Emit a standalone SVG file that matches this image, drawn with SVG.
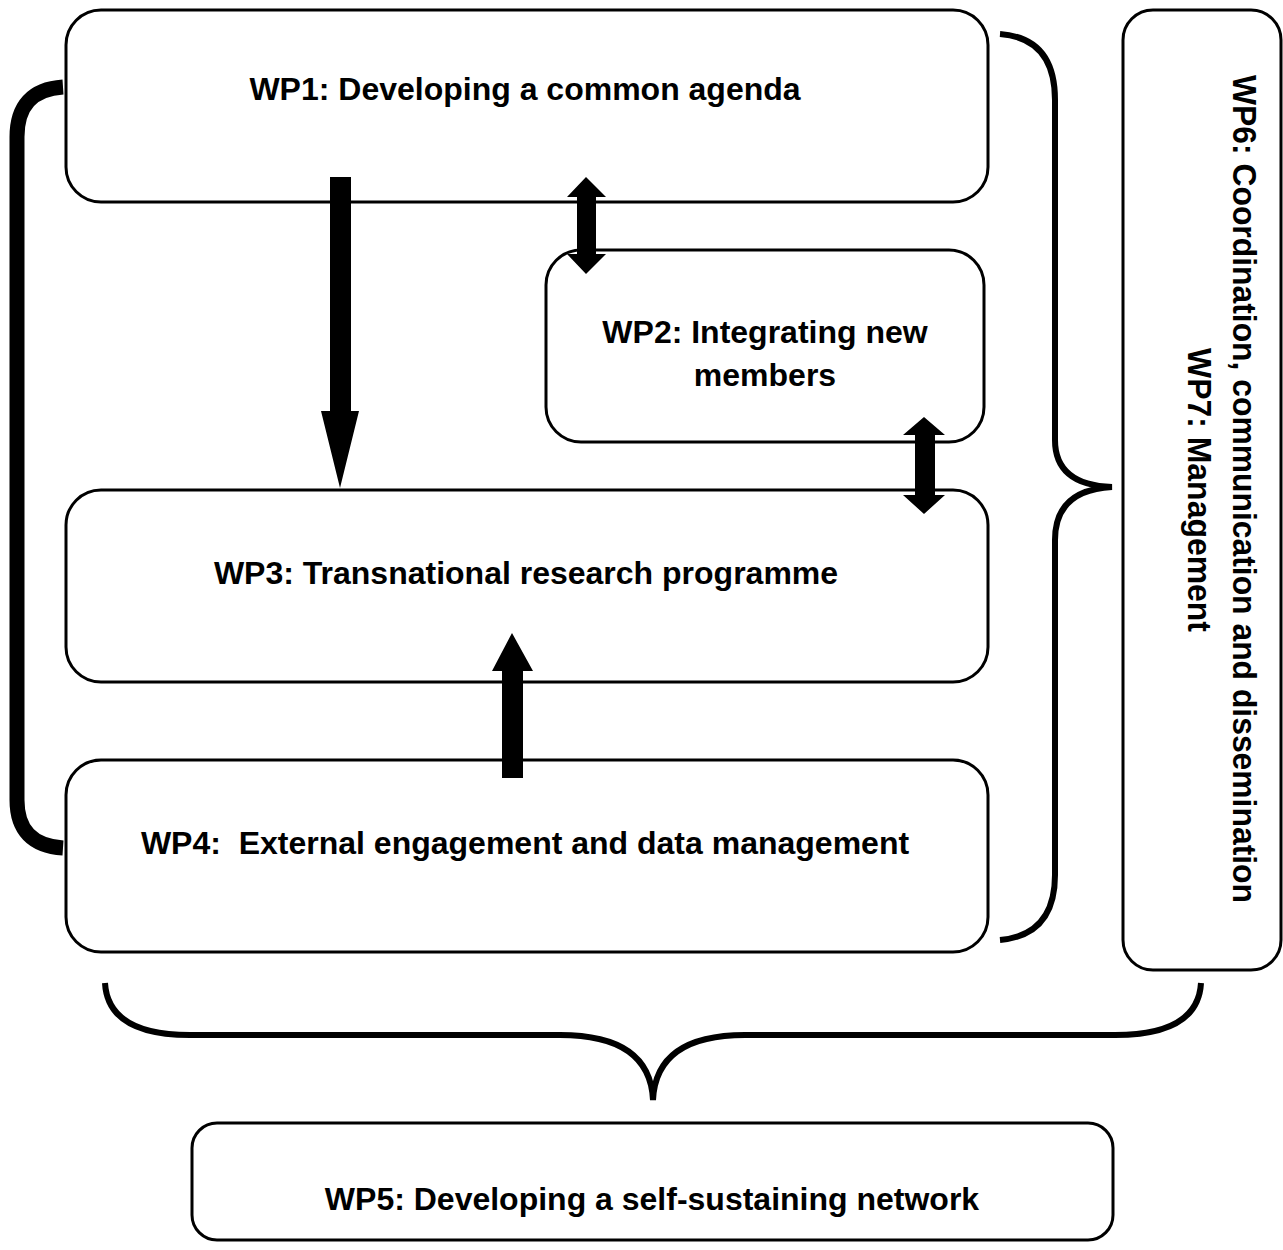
<svg xmlns="http://www.w3.org/2000/svg" width="1283" height="1250" viewBox="0 0 1283 1250">
<style>
.box{fill:#fff;stroke:#000;stroke-width:3}
.t{font-family:"Liberation Sans",Arial,sans-serif;font-weight:bold;font-size:32px;fill:#000;text-anchor:middle}
.v{font-size:34px}
.br{fill:none;stroke:#000;stroke-width:6;stroke-linecap:butt}
.ar{fill:#000;stroke:none}
</style>
<rect width="1283" height="1250" fill="#fff"/>
<g id="wp1"><rect class="box" x="66" y="10" width="922" height="192" rx="35"/><text class="t" x="525" y="100">WP1: Developing a common agenda</text></g>
<g id="wp2"><rect class="box" x="546" y="250" width="438" height="192" rx="35"/><text class="t" x="765" y="343">WP2: Integrating new</text><text class="t" x="765" y="386">members</text></g>
<g id="wp3"><rect class="box" x="66" y="490" width="922" height="192" rx="35"/><text class="t" x="526" y="584">WP3: Transnational research programme</text></g>
<g id="wp4"><rect class="box" x="66" y="760" width="922" height="192" rx="35"/><text class="t" x="525" y="854" xml:space="preserve">WP4:  External engagement and data management</text></g>
<g id="wp5"><rect class="box" x="192" y="1123" width="921" height="117" rx="25"/><text class="t" x="652" y="1210">WP5: Developing a self-sustaining network</text></g>
<g id="wp6"><rect class="box" x="1123" y="10" width="158" height="960" rx="30"/><text class="t v" transform="translate(1233,489) rotate(90)" textLength="828" lengthAdjust="spacingAndGlyphs">WP6: Coordination, communication and dissemination</text><text class="t v" transform="translate(1188,490) rotate(90)" textLength="284" lengthAdjust="spacingAndGlyphs">WP7: Management</text></g>
<g id="connectors">
<polygon class="ar" points="330,177 351,177 351,411 359,411 340,488 321,411 330,411"/>
<polygon class="ar" points="586,177 606,197 596,197 596,254 606,254 586,274 567,254 577,254 577,197 567,197"/>
<polygon class="ar" points="924,417 945,435 935,435 935,495 945,495 924,514 903,495 915,495 915,435 903,435"/>
<polygon class="ar" points="512,633 533,671 523,671 523,778 502,778 502,671 492,671"/>
<path class="br" style="stroke-width:15" d="M63,87 Q17,90 17,137 L17,800 Q17,845 63,848"/>
<path class="br" d="M1000,34 Q1055,38 1055,100 L1055,440 Q1055,485 1112,487 Q1055,490 1055,540 L1055,875 Q1055,935 1000,940"/>
<path class="br" d="M105,983 Q108,1035 190,1035 L560,1035 Q650,1035 653,1100 Q656,1035 745,1035 L1115,1035 Q1198,1035 1201,983"/>
</g>
</svg>
